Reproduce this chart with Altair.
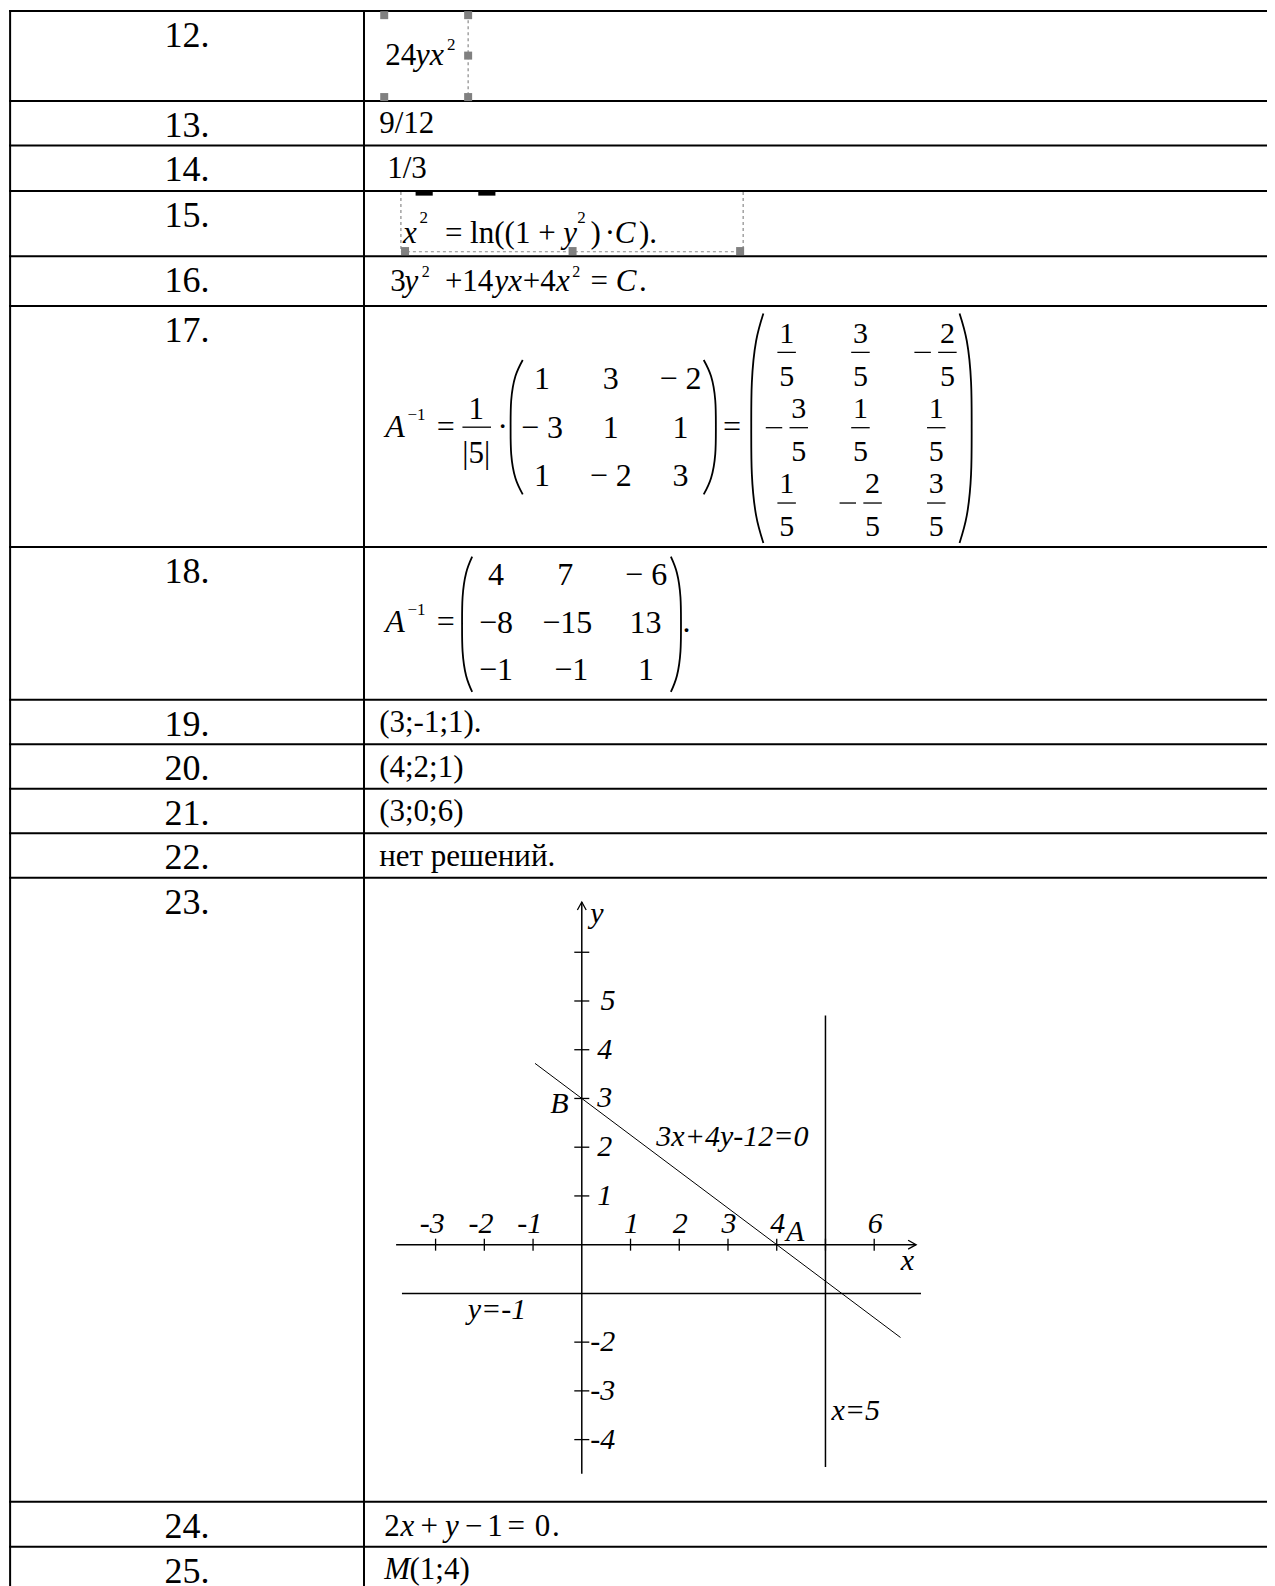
import altair as alt
import pandas as pd

FONT = "Liberation Serif"

# ---------------- content ----------------
row_labels = ["12.", "13.", "14.", "15.", "16.", "17.", "18.", "19.", "20.",
              "21.", "22.", "23.", "24.", "25."]
plain_answers = {"13.": "9/12", "14.": "1/3", "19.": "(3;-1;1).",
                 "20.": "(4;2;1)", "21.": "(3;0;6)", "22.": "нет решений."}

matrix17 = [["1", "3", "− 2"], ["− 3", "1", "1"], ["1", "− 2", "3"]]
inv17_num = [["1", "3", "2"], ["3", "1", "1"], ["1", "2", "3"]]
inv17_den = [["5", "5", "5"], ["5", "5", "5"], ["5", "5", "5"]]
inv17_neg = [[False, False, True], [True, False, False], [False, True, False]]
matrix18 = [["4", "7", "− 6"], ["−8", "−15", "13"], ["−1", "−1", "1"]]

# graph (item 23)
x_ticks = [-3, -2, -1, 1, 2, 3, 4, 5, 6]
x_tick_labels = ["-3", "-2", "-1", "1", "2", "3", "4", "", "6"]
y_ticks = [1, 2, 3, 4, 5, 6, -2, -3, -4]
y_tick_labels = ["1", "2", "3", "4", "5", "", "-2", "-3", "-4"]
line_x = [-0.96, 6.54]
line_y = [3.72, -1.905]
graph_notes = ["y", "x", "B", "A", "3x+4y-12=0", "y=-1", "x=5"]
graph_note_x = [0.31, 6.68, -0.46, 4.38, 3.09, -1.74, 5.62]
graph_note_y = [6.78, -0.33, 2.88, 0.25, 2.2, -1.35, -3.42]

# ---------------- layout (reference pixel coords) ----------------
REF = 1275 / 1261
W, H = 1259, 1578
X_MIN = 8 / REF
x_dom = [X_MIN, X_MIN + W / REF]
y_dom = [X_MIN, X_MIN + H / REF]
px = alt.Scale(domain=x_dom, range=[0, W], zero=False, nice=False)
py = alt.Scale(domain=y_dom, range=[0, H], zero=False, nice=False)

G_OX, G_OY, G_UNIT = 575.4, 1231.0, 48.2


def topx(v):
    return v * REF - 8


gx = alt.Scale(domain=[-4, 7], range=[topx(G_OX - 4 * G_UNIT), topx(G_OX + 7 * G_UNIT)],
               zero=False, nice=False)
gy = alt.Scale(domain=[-5, 7.5], range=[topx(G_OY + 5 * G_UNIT), topx(G_OY - 7.5 * G_UNIT)],
               zero=False, nice=False)

row_tops = [11, 100, 144, 189, 253.5, 302.7, 541, 692, 736, 780, 824, 868, 1485.3, 1529.8]
COL_L, COL_D = 10, 360

# ---------------- text items ----------------
items = []


def put(x, y, t, s=31, it=False, al="left"):
    items.append(dict(x=x, y=y, t=t, s=s, it=it, al=al))


for lbl, top in zip(row_labels, row_tops):
    put(185, top + 35.5, lbl, 36, al="center")
    if lbl in plain_answers:
        put(383 if lbl == "14." else 375, top + 32, plain_answers[lbl], 31)

# 12
put(381, 64, "24", 31)
put(411, 64, "yx", 32, it=True)
put(442, 49, "2", 17)
# 15
put(398.6, 240.5, "x", 31, it=True)
put(415, 221, "2", 17)
put(440, 240.5, "= ln((1 + ", 31)
put(557, 240.5, "y", 31, it=True)
put(571, 221, "2", 17)
put(584, 240.5, ")", 31)
put(598, 240.5, "·", 31)
put(608, 240.5, "C", 31, it=True)
put(632, 240.5, ").", 31)
# 16
put(386, 288, "3", 31)
put(400, 288, "y", 31, it=True)
put(417, 274, "2", 16)
put(440, 288, "+14", 31)
put(489, 288, "yx", 31, it=True)
put(517, 288, "+4", 31)
put(550, 288, "x", 31, it=True)
put(566, 274, "2", 16)
put(584, 288, "=", 31)
put(609, 288, "C", 31, it=True)
put(632, 288, ".", 31)
# 17
put(381, 432, "A", 32, it=True)
put(403, 415, "−1", 17)
put(432, 432, "=", 32)
put(471, 414, "1", 31, al="center")
put(471, 458, "|5|", 31, al="center")
put(492, 432, "·", 31)
m17_cols = [536, 604, 673]
m17_rows = [385, 433, 481]
for r, row in enumerate(matrix17):
    for c, v in enumerate(row):
        put(m17_cols[c], m17_rows[r], v, 32, al="center")
put(715, 432, "=", 32)
inv_cols = [[778, 851, 937], [790, 851, 926], [778, 863, 926]]
inv_bar = [348.5, 423, 497.5]
for r in range(3):
    for c in range(3):
        put(inv_cols[r][c], inv_bar[r] - 9.5, inv17_num[r][c], 30, al="center")
        put(inv_cols[r][c], inv_bar[r] + 33, inv17_den[r][c], 30, al="center")
# 18
put(381, 625, "A", 32, it=True)
put(403, 608, "−1", 17)
put(432, 625, "=", 32)
m18_cols = [[490.5, 559, 639], [490.5, 561, 638.5], [490.5, 565, 639]]
m18_rows = [578.5, 626.5, 672.5]
for r, row in enumerate(matrix18):
    for c, v in enumerate(row):
        put(m18_cols[r][c], m18_rows[r], v, 32, al="center")
put(675, 625, ".", 32)
# 24
for t, x, it in [("2", 380, False), ("x", 396, True), ("+", 416, False), ("y", 440, True),
                 ("−", 460, False), ("1", 482, False), ("=", 502, False), ("0", 529, False),
                 (".", 546, False)]:
    put(x, 1519, t, 31, it=it)
# 25
put(380, 1562, "M", 31, it=True)
put(405, 1562, "(1;4)", 31)

# ---------------- rules ----------------
rules = []
for top in row_tops:
    rules.append(dict(x=COL_L, x2=x_dom[1], y=top, y2=top, w=2))
rules.append(dict(x=COL_L, x2=COL_L, y=row_tops[0], y2=y_dom[1], w=2))
rules.append(dict(x=COL_D, x2=COL_D, y=row_tops[0], y2=y_dom[1], w=2))
# fraction bars
rules.append(dict(x=458, x2=485, y=422.5, y2=422.5, w=1.3))
for r in range(3):
    for c in range(3):
        cx = inv_cols[r][c]
        rules.append(dict(x=cx - 8.5, x2=cx + 8.5, y=inv_bar[r], y2=inv_bar[r], w=1.3))
        if inv17_neg[r][c]:
            rules.append(dict(x=cx - 32, x2=cx - 17, y=inv_bar[r], y2=inv_bar[r], w=1.3))
# clipped fragments in 15
rules.append(dict(x=413, x2=426, y=191.5, y2=191.5, w=4))
rules.append(dict(x=475, x2=488, y=191.5, y2=191.5, w=4))
rules_df = pd.DataFrame(rules)

dashes = pd.DataFrame([
    dict(x=463, x2=463, y=14, y2=96),
    dict(x=396.5, x2=396.5, y=190, y2=248.5),
    dict(x=735, x2=735, y=190, y2=248.5),
    dict(x=396.5, x2=735, y=249, y2=249),
])
handles = pd.DataFrame(dict(x=[380, 463, 463, 380, 463, 400.6, 566.3, 732],
                            y=[15, 15, 55, 96, 96, 248.3, 248.3, 248.3]))

# parentheses
paren_boxes = [(505, 356, 517, 489, "L"), (696, 356, 708, 489, "R"),
               (743, 310, 755, 537, "L"), (949, 310, 961, 537, "R"),
               (457, 550.6, 467, 684.3, "L"), (663.5, 550.6, 673.5, 684.3, "R")]
prow = []
for i, (xl, yt, xr, yb, side) in enumerate(paren_boxes):
    outer, inner = (xr, xl) if side == "L" else (xl, xr)
    for k, (f, g) in enumerate([(0, 0), (0.12, 0.6), (0.3, 0.95), (0.5, 1),
                                (0.7, 0.95), (0.88, 0.6), (1, 0)]):
        prow.append(dict(p=i, k=k, x=outer + (inner - outer) * g, y=yt + f * (yb - yt)))
paren_df = pd.DataFrame(prow)

# ---------------- graph data ----------------
g_rules = pd.DataFrame([
    dict(x=-3.81, x2=6.86, y=0, y2=0),
    dict(x=0, x2=0, y=-4.7, y2=7.03),
    dict(x=-3.69, x2=6.96, y=-1, y2=-1),
    dict(x=5, x2=5, y=-4.56, y2=4.70),
])
g_line = pd.DataFrame(dict(x=line_x, y=line_y))
gxt = pd.DataFrame(dict(x=x_ticks, y=[0] * len(x_ticks)))
gyt = pd.DataFrame(dict(x=[0] * len(y_ticks), y=y_ticks))

g_items = []
for v, lab in zip(x_ticks, x_tick_labels):
    if lab:
        g_items.append(dict(x=v - 0.07 if v < 0 else v + 0.02, y=0.42, t=lab))
for v, lab in zip(y_ticks, y_tick_labels):
    if lab:
        g_items.append(dict(x=(0.54 if v == 5 else 0.47) if v > 0 else 0.43, y=v, t=lab))
for t, x, y in zip(graph_notes, graph_note_x, graph_note_y):
    g_items.append(dict(x=x, y=y, t=t))
g_text = pd.DataFrame(g_items)


# ---------------- chart ----------------
def XY(sx, sy):
    return dict(x=alt.X("x:Q", scale=sx, axis=None), y=alt.Y("y:Q", scale=sy, axis=None))


layers = []
layers.append(alt.Chart(rules_df).mark_rule(color="black", strokeCap="square").encode(
    **XY(px, py), x2="x2:Q", y2="y2:Q",
    strokeWidth=alt.StrokeWidth("w:Q", scale=None, legend=None)))
layers.append(alt.Chart(dashes).mark_rule(color="#8a8a8a", strokeWidth=1.2, strokeDash=[3, 3]).encode(
    **XY(px, py), x2="x2:Q", y2="y2:Q"))
layers.append(alt.Chart(handles).mark_square(size=64, color="#808080", opacity=1).encode(**XY(px, py)))
layers.append(alt.Chart(paren_df).mark_line(color="black", strokeWidth=1.8, interpolate="natural").encode(
    **XY(px, py), detail="p:N", order="k:Q"))

tdf = pd.DataFrame(items)
for (it, al), sub in tdf.groupby(["it", "al"]):
    layers.append(alt.Chart(sub.reset_index(drop=True)).mark_text(
        font=FONT, fontStyle="italic" if it else "normal", align=al,
        baseline="alphabetic", color="black").encode(
        **XY(px, py), text="t:N", size=alt.Size("s:Q", scale=None, legend=None)))

# graph layers
layers.append(alt.Chart(g_rules).mark_rule(color="black", strokeWidth=1.5).encode(
    **XY(gx, gy), x2="x2:Q", y2="y2:Q"))
layers.append(alt.Chart(g_line).mark_line(color="black", strokeWidth=1).encode(**XY(gx, gy)))
layers.append(alt.Chart(gxt).mark_tick(orient="vertical", size=12, thickness=1.3, color="black",
                                       opacity=1).encode(**XY(gx, gy)))
layers.append(alt.Chart(gyt).mark_tick(orient="horizontal", size=15, thickness=1.3, color="black",
                                       opacity=1).encode(**XY(gx, gy)))
layers.append(alt.Chart(pd.DataFrame(dict(x=[6.86], y=[0]))).mark_point(
    shape="M-1,-0.55L0,0L-1,0.55", size=256, filled=False, color="black", strokeWidth=1.3,
    opacity=1).encode(**XY(gx, gy)))
layers.append(alt.Chart(pd.DataFrame(dict(x=[0], y=[7.03]))).mark_point(
    shape="M-0.55,1L0,0L0.55,1", size=256, filled=False, color="black", strokeWidth=1.3,
    opacity=1).encode(**XY(gx, gy)))
layers.append(alt.Chart(g_text).mark_text(font=FONT, fontStyle="italic", fontSize=30,
                                          align="center", baseline="middle", color="black").encode(
    **XY(gx, gy), text="t:N"))

chart = alt.layer(*layers).resolve_scale(x="independent", y="independent").properties(
    width=W, height=H, padding=0, autosize=alt.AutoSizeParams(type="none")
).configure_view(stroke=None)

chart.save("out.html", embed_options={"renderer": "svg", "actions": False})
